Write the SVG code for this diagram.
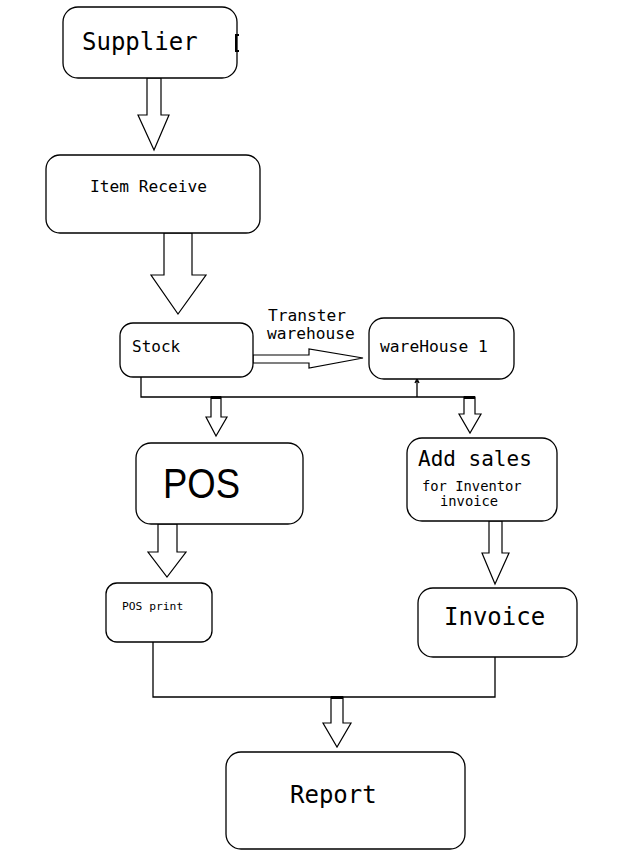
<svg xmlns="http://www.w3.org/2000/svg" width="640" height="855" viewBox="0 0 640 855">
<style>
.box{fill:#fff;stroke:#000;stroke-width:1.3}
.arr{fill:#fff;stroke:#000;stroke-width:1.2;stroke-linejoin:miter}
.ln{fill:none;stroke:#000;stroke-width:1.3}
.t{font-family:"DejaVu Sans Mono","Liberation Mono",monospace;fill:#000}
.s{font-family:"Liberation Sans","Open Sans",sans-serif;fill:#000}
</style>
<rect width="640" height="855" fill="#fff"/>
<g id="connectors">
<polygon class="arr" points="147,78 161,78 161,115 169,115 154,150 138,115 147,115"/>
<polygon class="arr" points="164,233 192,233 192,275 206,275 178,314 151,275 164,275"/>
<polygon class="arr" points="253,355 309,355 309,349 363,358 309,368 309,363 253,363"/>
<path class="ln" d="M141,377 V397 H475"/>
<path class="ln" d="M417,397 V381 M415,383 L417,379 L419,383"/>
<polygon class="arr" points="211,397 221,397 221,417 227,417 216,436 206,417 211,417"/>
<rect x="211" y="396" width="10" height="3" fill="#000"/>
<polygon class="arr" points="464,397 475,397 475,414 481,414 470,433 459,414 464,414"/>
<rect x="464" y="396" width="11" height="3" fill="#000"/>
<polygon class="arr" points="158,524 177,524 177,552 186,552 167,577 148,552 158,552"/>
<polygon class="arr" points="489,521 502,521 502,553 509,553 495,584 482,553 489,553"/>
<path class="ln" d="M153,642 V697 H495 V657"/>
<polygon class="arr" points="331,697 343,697 343,723 351,723 337,747 323,723 331,723"/>
<rect x="331" y="696" width="12" height="3" fill="#000"/>
<text class="t" x="268" y="321" font-size="16.2">Transter</text>
<text class="t" x="267" y="339" font-size="16.2">warehouse</text>
</g>
<g id="supplier">
<rect class="box" x="63" y="7" width="174" height="71" rx="15"/>
<path d="M239,35 H236 V51 H239" fill="none" stroke="#000" stroke-width="2"/>
<text class="t" x="82" y="50" font-size="24">Supplier</text>
</g>
<g id="item-receive">
<rect class="box" x="46" y="155" width="214" height="78" rx="14"/>
<text class="t" x="90" y="192" font-size="16.2">Item Receive</text>
</g>
<g id="stock">
<rect class="box" x="120" y="323" width="133" height="54" rx="13"/>
<text class="t" x="132" y="352" font-size="16">Stock</text>
</g>
<g id="warehouse1">
<rect class="box" x="369" y="318" width="145" height="61" rx="15"/>
<text class="t" x="380" y="352" font-size="16.3">wareHouse 1</text>
</g>
<g id="pos">
<rect class="box" x="136" y="443" width="167" height="81" rx="15"/>
<text class="s" x="163" y="498" font-size="42" textLength="77" lengthAdjust="spacingAndGlyphs">POS</text>
</g>
<g id="add-sales">
<rect class="box" x="407" y="438" width="150" height="83" rx="15"/>
<text class="t" x="418" y="466" font-size="21">Add sales</text>
<text class="t" x="422" y="491" font-size="13.8">for Inventor</text>
<text class="t" x="440" y="506" font-size="13.8">invoice</text>
</g>
<g id="pos-print">
<rect class="box" x="106" y="583" width="106" height="59" rx="11"/>
<text class="t" x="122" y="610" font-size="11.3">POS print</text>
</g>
<g id="invoice">
<rect class="box" x="418" y="588" width="159" height="69" rx="15"/>
<text class="t" x="444" y="625" font-size="24">Invoice</text>
</g>
<g id="report">
<rect class="box" x="226" y="752" width="239" height="97" rx="15"/>
<text class="t" x="290" y="803" font-size="24">Report</text>
</g>
</svg>
